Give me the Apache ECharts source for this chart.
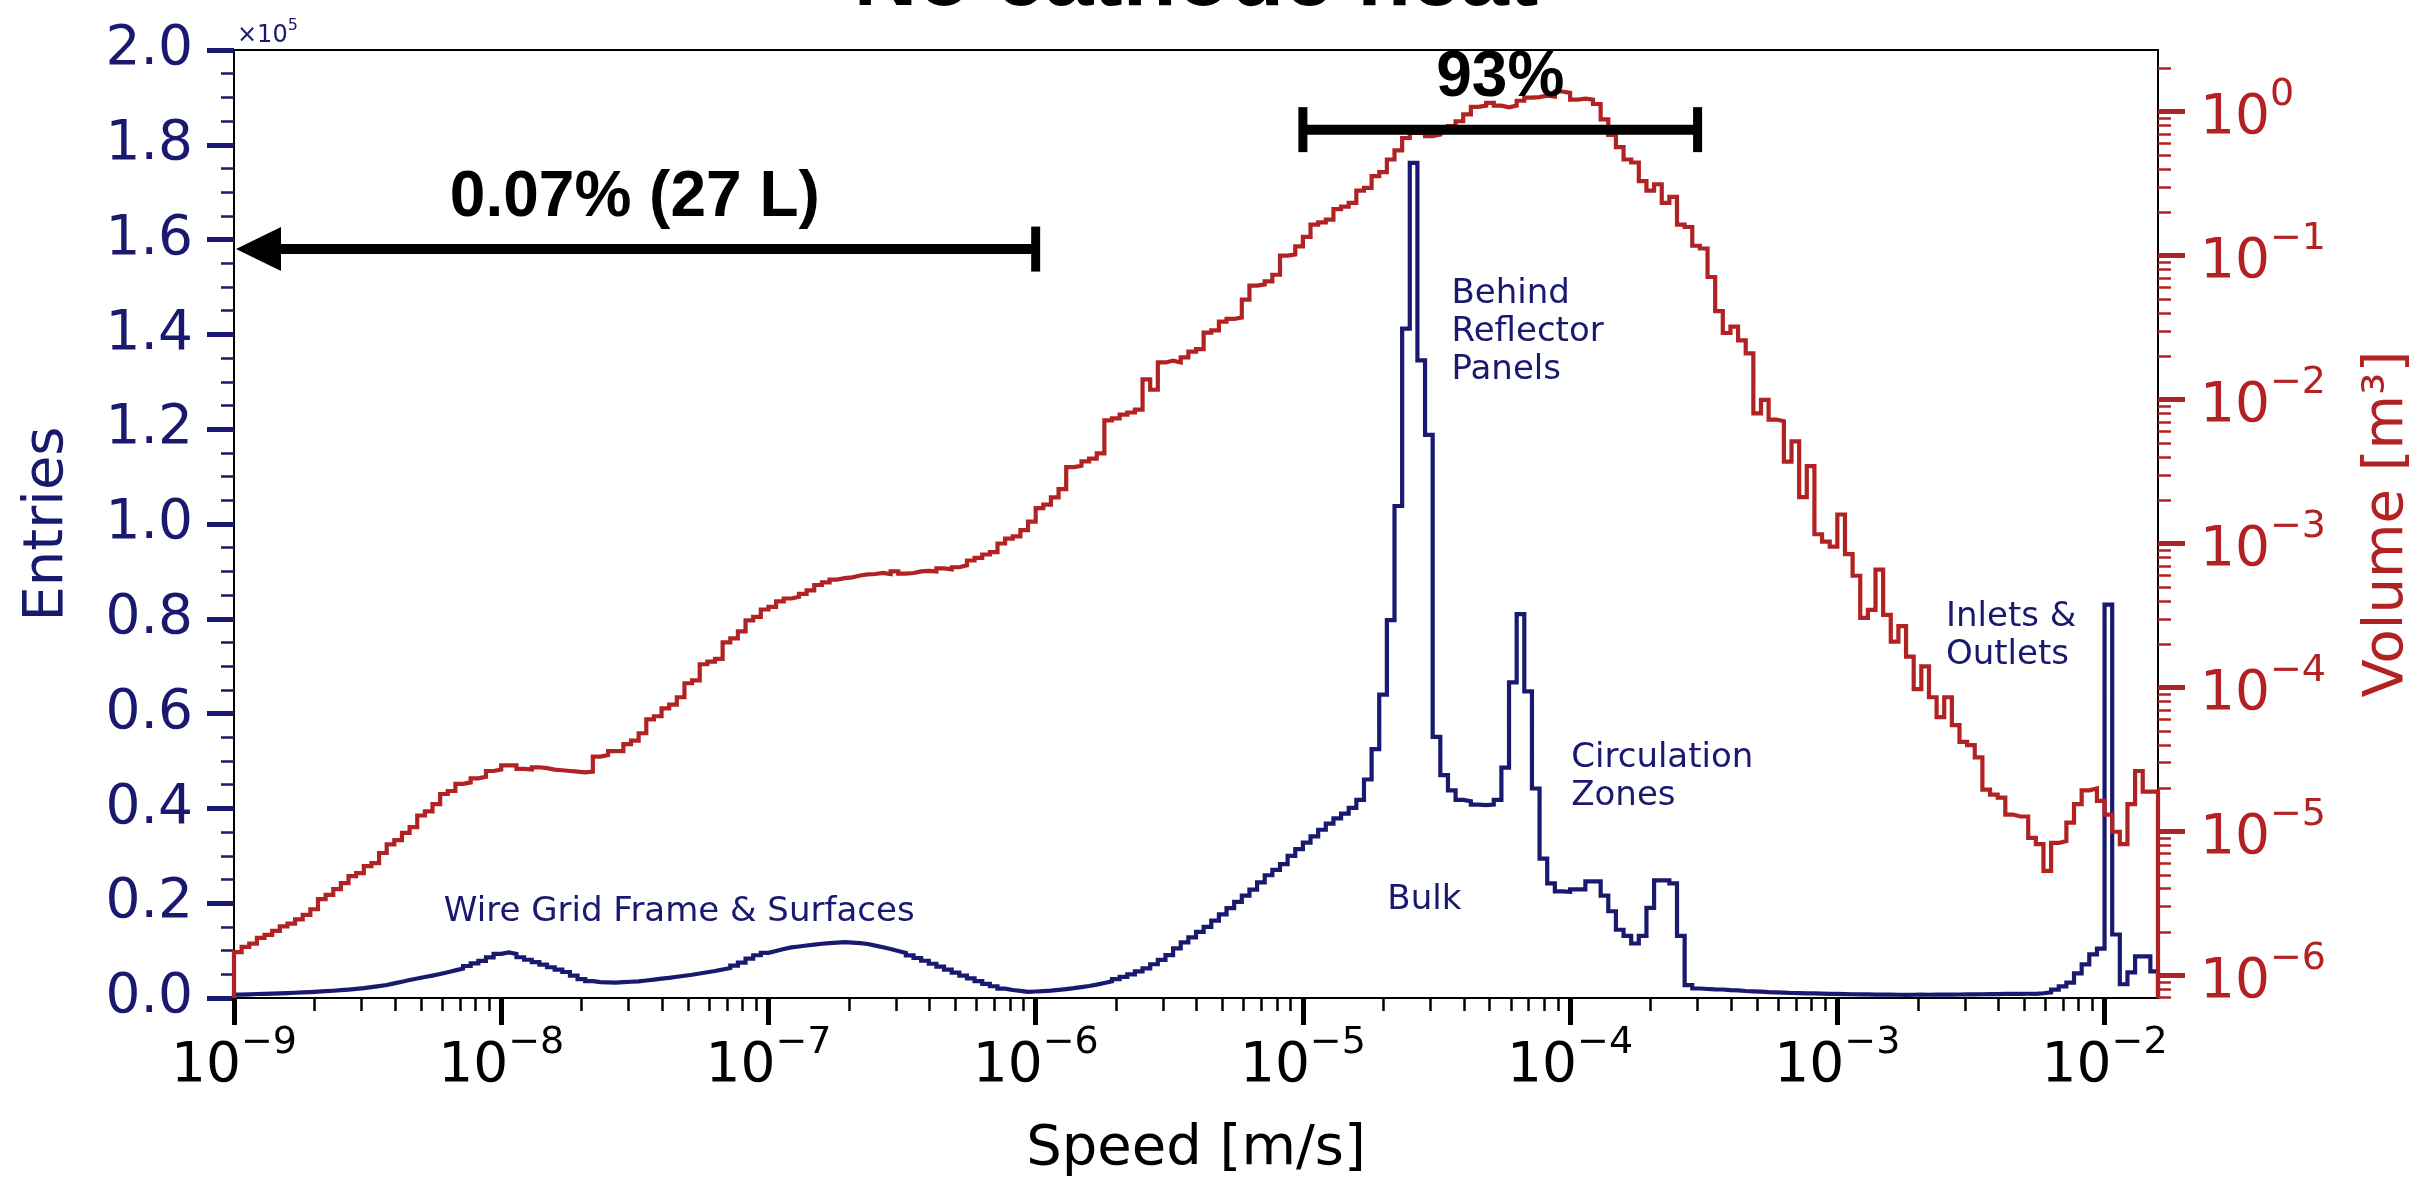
<!DOCTYPE html>
<html>
<head>
<meta charset="utf-8">
<title>No cathode heat</title>
<script src="https://cdn.jsdelivr.net/npm/echarts@6/dist/echarts.min.js"></script>
<style>
  html, body { margin: 0; padding: 0; background: #ffffff; }
  #chart { width: 2431px; height: 1179px; }
</style>
</head>
<body>
<div id="chart"></div>
<script>
// Speed histogram: 252 log-spaced bins from 1e-9 m/s to 10^-1.8 m/s (35 bins per decade)
const SPEED_LOG_MIN = -9;
const SPEED_LOG_MAX = -1.8;
const BIN_COUNT = 252;

// Entries per speed bin
const entries = [
  730, 780, 840, 880, 930, 980, 1030, 1110, 1180, 1260,
  1350, 1440, 1530, 1650, 1780, 1920, 2080, 2290, 2500, 2740,
  3090, 3440, 3800, 4110, 4420, 4730, 5070, 5440, 5830, 6210,
  6750, 7300, 7850, 8570, 9300, 9600, 9300, 8600, 8070, 7570,
  7030, 6490, 6000, 5490, 4730, 3990, 3540, 3360, 3310, 3250,
  3340, 3430, 3520, 3690, 3880, 4070, 4260, 4480, 4690, 4910,
  5170, 5440, 5700, 6010, 6340, 6810, 7450, 8320, 9020, 9530,
  9920, 10330, 10670, 10870, 11070, 11260, 11450, 11580, 11690, 11800,
  11680, 11570, 11390, 11050, 10720, 10340, 9920, 9500, 8980, 8440,
  7860, 7230, 6630, 6000, 5350, 4700, 4140, 3550, 2980, 2480,
  1980, 1680, 1490, 1300, 1370, 1450, 1540, 1710, 1880, 2070,
  2310, 2530, 2830, 3170, 3530, 3980, 4440, 4980, 5610, 6270,
  7120, 8030, 9030, 10470, 11740, 12800, 13930, 15000, 16330, 17660,
  18980, 20280, 21610, 22870, 24410, 25900, 27050, 28250, 30000, 31400,
  32800, 34100, 35500, 36800, 37900, 38900, 40100, 41800, 46100, 52500,
  64000, 79700, 103800, 141200, 176200, 134500, 118800, 55100, 47000, 43800,
  41800, 41500, 40800, 40700, 40800, 41800, 48600, 66600, 81000, 64700,
  44200, 29400, 24200, 22500, 22400, 22900, 22900, 24600, 24600, 21600,
  18300, 14400, 13100, 11500, 13100, 19000, 24800, 24800, 24200, 13100,
  2700, 2000, 1900, 1820, 1790, 1650, 1610, 1480, 1390, 1330,
  1240, 1190, 1120, 1060, 1030, 980, 990, 930, 880, 860,
  810, 790, 760, 750, 720, 710, 700, 690, 670, 690,
  700, 690, 710, 720, 700, 740, 760, 750, 790, 810,
  830, 860, 850, 880, 900, 890, 1000, 1200, 1750, 2450,
  3250, 5200, 7100, 9200, 10400, 83000, 13400, 2900, 5400, 8800,
  8800, 5600
];

// Volume per speed bin [m^3]
const volume = [
  1.45e-6, 1.58e-6, 1.66e-6, 1.82e-6, 1.91e-6, 2.04e-6, 2.19e-6, 2.29e-6, 2.45e-6, 2.63e-6,
  2.88e-6, 3.39e-6, 3.63e-6, 3.98e-6, 4.37e-6, 4.90e-6, 5.13e-6, 5.75e-6, 6.03e-6, 7.08e-6,
  8.13e-6, 8.71e-6, 9.77e-6, 1.07e-5, 1.29e-5, 1.38e-5, 1.55e-5, 1.82e-5, 1.91e-5, 2.14e-5,
  2.19e-5, 2.34e-5, 2.40e-5, 2.63e-5, 2.69e-5, 2.88e-5, 2.88e-5, 2.72e-5, 2.69e-5, 2.79e-5,
  2.75e-5, 2.69e-5, 2.66e-5, 2.63e-5, 2.60e-5, 2.57e-5, 2.60e-5, 3.31e-5, 3.39e-5, 3.61e-5,
  3.61e-5, 4.04e-5, 4.27e-5, 4.81e-5, 6.01e-5, 6.31e-5, 7.16e-5, 7.59e-5, 8.55e-5, 1.07e-4,
  1.12e-4, 1.45e-4, 1.51e-4, 1.58e-4, 2.06e-4, 2.19e-4, 2.45e-4, 2.92e-4, 3.09e-4, 3.48e-4,
  3.63e-4, 3.96e-4, 4.15e-4, 4.27e-4, 4.47e-4, 4.72e-4, 5.15e-4, 5.37e-4, 5.62e-4, 5.75e-4,
  5.82e-4, 6.00e-4, 6.10e-4, 6.14e-4, 6.24e-4, 6.14e-4, 6.40e-4, 6.17e-4, 6.24e-4, 6.40e-4,
  6.46e-4, 6.40e-4, 6.71e-4, 6.61e-4, 6.84e-4, 7.05e-4, 7.62e-4, 7.94e-4, 8.39e-4, 8.71e-4,
  1.00e-3, 1.08e-3, 1.12e-3, 1.24e-3, 1.42e-3, 1.76e-3, 1.86e-3, 2.09e-3, 2.39e-3, 3.39e-3,
  3.47e-3, 3.72e-3, 3.89e-3, 4.23e-3, 7.16e-3, 7.41e-3, 7.85e-3, 8.13e-3, 8.51e-3, 1.38e-2,
  1.17e-2, 1.81e-2, 1.86e-2, 1.81e-2, 1.96e-2, 2.15e-2, 2.24e-2, 2.92e-2, 3.02e-2, 3.48e-2,
  3.63e-2, 3.72e-2, 4.94e-2, 6.18e-2, 6.31e-2, 6.61e-2, 7.36e-2, 1.00e-1, 1.02e-1, 1.16e-1,
  1.35e-1, 1.64e-1, 1.70e-1, 1.78e-1, 2.10e-1, 2.19e-1, 2.32e-1, 2.83e-1, 2.95e-1, 3.56e-1,
  3.80e-1, 4.65e-1, 5.38e-1, 6.56e-1, 7.11e-1, 7.08e-1, 6.76e-1, 6.92e-1, 7.62e-1, 7.94e-1,
  8.57e-1, 9.57e-1, 1.08, 1.10, 1.15, 1.10, 1.07, 1.10, 1.19, 1.25,
  1.26, 1.29, 1.27, 1.38, 1.35, 1.21, 1.23, 1.21, 1.13, 8.83e-1,
  6.90e-1, 5.66e-1, 4.65e-1, 4.43e-1, 3.29e-1, 2.83e-1, 3.13e-1, 2.32e-1, 2.56e-1, 1.64e-1,
  1.58e-1, 1.17e-1, 1.12e-1, 7.10e-2, 4.11e-2, 2.90e-2, 3.21e-2, 2.58e-2, 2.09e-2, 8.02e-3,
  9.95e-3, 7.26e-3, 7.08e-3, 3.70e-3, 5.13e-3, 2.10e-3, 3.45e-3, 1.16e-3, 1.03e-3, 9.51e-4,
  1.59e-3, 8.43e-4, 5.97e-4, 3.04e-4, 3.46e-4, 6.59e-4, 3.19e-4, 2.08e-4, 2.67e-4, 1.64e-4,
  9.73e-5, 1.40e-4, 8.55e-5, 6.22e-5, 8.55e-5, 5.47e-5, 4.19e-5, 3.98e-5, 3.27e-5, 1.95e-5,
  1.80e-5, 1.72e-5, 1.31e-5, 1.27e-5, 1.27e-5, 9.02e-6, 8.17e-6, 5.33e-6, 8.32e-6, 8.57e-6,
  1.15e-5, 1.55e-5, 1.93e-5, 1.99e-5, 1.63e-5, 1.31e-5, 9.95e-6, 8.17e-6, 1.55e-5, 2.63e-5,
  1.89e-5, 1.89e-5
];

// Axis ranges and tick labels
const ENTRIES_MAX = 200000;
const ENTRIES_STEP = 20000;
const VOL_LOG_MIN = -6.157;
const VOL_LOG_MAX = 0.428;
const speedDecades = [-9, -8, -7, -6, -5, -4, -3, -2];
const volumeDecades = [-6, -5, -4, -3, -2, -1, 0];

// Fraction-of-volume spans (speed range, height on the entries axis)
const spanFrom = [1e-9, 1e-5];
const spanTo = [1e-6, 3e-4];
const spanEntries = [158000, 183200];
const spanText = ['0.07% (27 L)', '93%'];
const spanArrow = [true, false];

// Region labels (speed and entries of the text block's top-left)
const regionText = ['Wire Grid Frame & Surfaces', 'Behind\nReflector\nPanels', 'Bulk', 'Circulation\nZones', 'Inlets &\nOutlets'];
const regionSpeed = [6.1e-9, 3.6e-5, 2.07e-5, 1.01e-4, 2.55e-3];
const regionEntries = [22200, 152600, 24600, 54600, 84300];

const NAVY = '#191970';
const RED = '#b22222';
const FONT = '"DejaVu Sans"';
const BOLD_FONT = '"Liberation Sans"';

const binEdges = [];
for (let i = 0; i <= BIN_COUNT; i++) {
  binEdges.push(SPEED_LOG_MIN + i * (SPEED_LOG_MAX - SPEED_LOG_MIN) / BIN_COUNT);
}

// Outline of a histogram drawn as a step line, closed down to the baseline at both ends
function histogramOutline(values, toAxis, base) {
  const pts = [[binEdges[0], base]];
  values.forEach((v, i) => pts.push([binEdges[i], toAxis(v)]));
  pts.push([binEdges[BIN_COUNT], base]);
  return pts;
}

const speedMinor = [];
for (let n = -9; n <= -2; n++) {
  for (let k = 2; k <= 9; k++) {
    const v = n + Math.log10(k);
    if (v < SPEED_LOG_MAX) speedMinor.push(v);
  }
}
const volumeMinor = [];
for (let n = -7; n <= 0; n++) {
  for (let k = 2; k <= 9; k++) {
    const v = n + Math.log10(k);
    if (v > VOL_LOG_MIN && v < VOL_LOG_MAX) volumeMinor.push(v);
  }
}

const supText = v => (v < 0 ? '\u2212' + (-v) : String(v));
const powerRich = color => ({
  b: { fontSize: 55, lineHeight: 70, verticalAlign: 'bottom', fontFamily: FONT, color: color },
  s: { fontSize: 38, lineHeight: 38, verticalAlign: 'top', fontFamily: FONT, color: color }
});

const chart = echarts.init(document.getElementById('chart'), null, { renderer: 'canvas' });

const option = {
  animation: false,
  backgroundColor: '#ffffff',
  textStyle: { fontFamily: FONT },
  grid: {
    left: 234, right: 273, top: 50, bottom: 181,
    show: true, borderColor: '#000', borderWidth: 2,
    containLabel: false, outerBoundsMode: 'none'
  },
  xAxis: [
    {
      type: 'value', min: SPEED_LOG_MIN, max: SPEED_LOG_MAX, position: 'bottom',
      name: 'Speed [m/s]', nameLocation: 'middle', nameGap: 123,
      nameTextStyle: { fontSize: 56, color: '#000', fontFamily: FONT },
      axisLine: { show: true, onZero: false, lineStyle: { color: '#000', width: 2 } },
      axisTick: { show: true, customValues: speedDecades, length: 27, lineStyle: { color: '#000', width: 5 } },
      axisLabel: {
        customValues: speedDecades, margin: 26,
        formatter: v => '{b|10}{s|' + supText(Math.round(v)) + '}',
        rich: powerRich('#000')
      },
      splitLine: { show: false }
    },
    {
      type: 'value', min: SPEED_LOG_MIN, max: SPEED_LOG_MAX, position: 'bottom',
      axisLine: { show: false },
      axisTick: { show: true, customValues: speedMinor, length: 13, lineStyle: { color: '#000', width: 2.5 } },
      axisLabel: { show: false },
      splitLine: { show: false }
    }
  ],
  yAxis: [
    {
      type: 'value', min: 0, max: ENTRIES_MAX, interval: ENTRIES_STEP, position: 'left',
      name: 'Entries', nameLocation: 'middle', nameGap: 159, nameRotate: 90,
      nameTextStyle: { fontSize: 56, color: NAVY, fontFamily: FONT },
      axisLine: { show: true, lineStyle: { color: '#000', width: 2 } },
      axisTick: { show: true, length: 27, lineStyle: { color: NAVY, width: 5 } },
      minorTick: { show: true, splitNumber: 4, length: 13, lineStyle: { color: NAVY, width: 2.5 } },
      axisLabel: {
        margin: 41, fontSize: 55, color: NAVY, fontFamily: FONT,
        formatter: v => (v / 1e5).toFixed(1)
      },
      splitLine: { show: false },
      minorSplitLine: { show: false }
    },
    {
      type: 'value', min: VOL_LOG_MIN, max: VOL_LOG_MAX, position: 'right',
      name: 'Volume [m\u00b3]', nameLocation: 'middle', nameGap: 201, nameRotate: 90,
      nameTextStyle: { fontSize: 56, color: RED, fontFamily: FONT },
      axisLine: { show: true, lineStyle: { color: '#000', width: 2 } },
      axisTick: { show: true, customValues: volumeDecades, length: 27, lineStyle: { color: RED, width: 5 } },
      axisLabel: {
        customValues: volumeDecades, margin: 42,
        formatter: v => '{b|10}{s|' + supText(Math.round(v)) + '}',
        rich: powerRich(RED)
      },
      splitLine: { show: false }
    },
    {
      type: 'value', min: VOL_LOG_MIN, max: VOL_LOG_MAX, position: 'right',
      axisLine: { show: false },
      axisTick: { show: true, customValues: volumeMinor, length: 13, lineStyle: { color: RED, width: 2.5 } },
      axisLabel: { show: false },
      splitLine: { show: false }
    }
  ],
  series: [
    {
      name: 'Entries', type: 'line', xAxisIndex: 0, yAxisIndex: 0, z: 3,
      step: 'end', showSymbol: false, symbol: 'none',
      lineStyle: { color: NAVY, width: 4.2, join: 'miter' },
      data: histogramOutline(entries, v => v, 0)
    },
    {
      name: 'Volume', type: 'line', xAxisIndex: 0, yAxisIndex: 1, z: 4,
      step: 'end', showSymbol: false, symbol: 'none',
      lineStyle: { color: RED, width: 4.2, join: 'miter' },
      data: histogramOutline(volume, v => Math.log10(v), VOL_LOG_MIN)
    },
    {
      type: 'custom', xAxisIndex: 0, yAxisIndex: 0, z: 9,
      data: regionText.map((t, i) => [Math.log10(regionSpeed[i]), regionEntries[i]]),
      renderItem: (params, api) => {
        const p = api.coord([api.value(0), api.value(1)]);
        return {
          type: 'text', x: p[0], y: p[1],
          style: {
            text: regionText[params.dataIndex], font: '34px ' + FONT, fill: NAVY,
            align: 'left', verticalAlign: 'top', lineHeight: 38
          }
        };
      }
    },
    {
      type: 'custom', xAxisIndex: 0, yAxisIndex: 0, z: 10,
      data: spanText.map((t, i) => [Math.log10(spanFrom[i]), Math.log10(spanTo[i]), spanEntries[i]]),
      encode: { x: [0, 1], y: 2 },
      renderItem: (params, api) => {
        const i = params.dataIndex;
        const a = api.coord([api.value(0), api.value(2)]);
        const b = api.coord([api.value(1), api.value(2)]);
        const y = a[1];
        const cap = x => ({ type: 'rect', shape: { x: x - 4.5, y: y - 22.5, width: 9, height: 45 }, style: { fill: '#000' } });
        const children = [];
        let xStart = a[0];
        if (spanArrow[i]) {
          children.push({
            type: 'polygon',
            shape: { points: [[a[0] + 2, y], [a[0] + 47, y - 22], [a[0] + 47, y + 22]] },
            style: { fill: '#000' }
          });
          xStart = a[0] + 40;
        } else {
          children.push(cap(a[0]));
        }
        children.push(cap(b[0]));
        children.push({ type: 'line', shape: { x1: xStart, y1: y, x2: b[0], y2: y }, style: { stroke: '#000', lineWidth: 10 } });
        children.push({
          type: 'text', x: (a[0] + b[0]) / 2, y: y - 19,
          style: { text: spanText[i], font: 'bold 64px ' + BOLD_FONT, fill: '#000', align: 'center', verticalAlign: 'bottom' }
        });
        return { type: 'group', children: children };
      }
    }
  ],
  graphic: [
    {
      type: 'text', x: 1196, y: 25, z: 20,
      style: { text: 'No cathode heat', font: 'bold 88px ' + BOLD_FONT, fill: '#000', align: 'center', verticalAlign: 'bottom' }
    },
    {
      type: 'text', x: 237, y: 18, z: 20,
      style: {
        text: '{b|\u00d710}{s|5}',
        rich: {
          b: { fontSize: 24, lineHeight: 30, verticalAlign: 'bottom', fontFamily: FONT, fill: NAVY },
          s: { fontSize: 16, lineHeight: 16, verticalAlign: 'top', fontFamily: FONT, fill: NAVY }
        }
      }
    }
  ]
};

chart.setOption(option);
</script>
</body>
</html>
